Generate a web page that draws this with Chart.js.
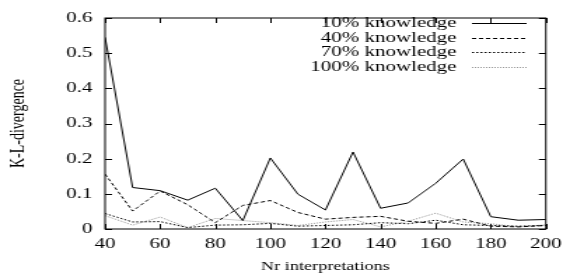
<!DOCTYPE html>
<html>
<head>
<meta charset="utf-8">
<script src="https://cdn.jsdelivr.net/npm/chart.js@4"></script>
<style>
  html, body { margin: 0; padding: 0; background: #fff; overflow: hidden; }
  #wrap { width: 407px; height: 276px; transform: scaleX(1.4005); transform-origin: 0 0; }
</style>
</head>
<body>
<div id="wrap"><canvas id="chart" width="407" height="276"></canvas></div>
<script>
var interpretations = [40, 50, 60, 70, 80, 90, 100, 110, 120, 130, 140, 150, 160, 170, 180, 190, 200];
var labels = ["10% knowledge", "40% knowledge", "70% knowledge", "100% knowledge"];
var k10 = [0.545, 0.118, 0.109, 0.082, 0.116, 0.024, 0.202, 0.099, 0.054, 0.219, 0.059, 0.074, 0.13, 0.199, 0.035, 0.025, 0.027];
var k40 = [0.156, 0.051, 0.108, 0.069, 0.018, 0.067, 0.081, 0.047, 0.028, 0.033, 0.036, 0.022, 0.016, 0.028, 0.008, 0.006, 0.01];
var k70 = [0.044, 0.02, 0.021, 0.004, 0.011, 0.012, 0.016, 0.008, 0.01, 0.012, 0.018, 0.015, 0.025, 0.012, 0.01, 0.008, 0.01];
var k100 = [0.038, 0.011, 0.034, 0.004, 0.03, 0.024, 0.018, 0.01, 0.02, 0.027, 0.006, 0.022, 0.045, 0.02, 0.015, 0.006, 0.012];

var serif = "'Liberation Serif', 'Times New Roman', 'DejaVu Serif', serif";
var styles = [
    {color: "#000", dash: []},
    {color: "#000", dash: [3, 2]},
    {color: "#000", dash: [1.5, 1.5]},
    {color: "#999", dash: [1, 1]}
];

function points(arr) {
    var out = [];
    for (var i = 0; i < interpretations.length; i++) {
        out.push({x: interpretations[i], y: arr[i]});
    }
    return out;
}

var series = [k10, k40, k70, k100];
var datasets = [];
for (var i = 0; i < series.length; i++) {
    datasets.push({
        label: labels[i],
        data: points(series[i]),
        borderColor: styles[i].color,
        borderDash: styles[i].dash,
        borderWidth: 1,
        pointRadius: 0,
        tension: 0,
        fill: false
    });
}

// gnuplot style frame with inward ticks on all four sides
var framePlugin = {
    id: "frame",
    afterDatasetsDraw: function (chart) {
        var ctx = chart.ctx, a = chart.chartArea;
        var xs = chart.scales.x, ys = chart.scales.y;
        ctx.save();
        ctx.strokeStyle = "#000";
        ctx.lineWidth = 1;
        ctx.setLineDash([]);
        ctx.strokeRect(a.left, a.top, a.right - a.left, a.bottom - a.top);
        ctx.beginPath();
        xs.ticks.forEach(function (t) {
            var px = Math.round(xs.getPixelForValue(t.value)) + 0.5;
            ctx.moveTo(px, a.bottom); ctx.lineTo(px, a.bottom - 5);
            ctx.moveTo(px, a.top); ctx.lineTo(px, a.top + 5);
        });
        ys.ticks.forEach(function (t) {
            var py = Math.round(ys.getPixelForValue(t.value)) + 0.5;
            ctx.moveTo(a.left, py); ctx.lineTo(a.left + 5, py);
            ctx.moveTo(a.right, py); ctx.lineTo(a.right - 5, py);
        });
        ctx.stroke();
        ctx.restore();
    }
};

// legend: text right aligned, line sample on the right
var keyPlugin = {
    id: "key",
    afterDraw: function (chart) {
        var ctx = chart.ctx;
        var textRight = 326, lineL = 337, lineR = 376, top = 23, step = 14.6;
        ctx.save();
        ctx.font = "15px " + serif;
        ctx.textAlign = "right";
        ctx.textBaseline = "middle";
        chart.data.datasets.forEach(function (ds, i) {
            var y = top + i * step;
            ctx.fillStyle = "#000";
            ctx.fillText(ds.label, textRight, y);
            ctx.strokeStyle = ds.borderColor;
            ctx.setLineDash(ds.borderDash);
            ctx.lineWidth = 1;
            ctx.beginPath();
            ctx.moveTo(lineL, Math.round(y) + 0.5);
            ctx.lineTo(lineR, Math.round(y) + 0.5);
            ctx.stroke();
        });
        ctx.restore();
    }
};

new Chart(document.getElementById("chart").getContext("2d"), {
    type: "line",
    data: {datasets: datasets},
    options: {
        responsive: false,
        animation: false,
        layout: {padding: {top: 13, right: 12, left: 0, bottom: 0}},
        plugins: {legend: {display: false}, tooltip: {enabled: false}},
        scales: {
            x: {
                type: "linear",
                min: 40,
                max: 200,
                grid: {display: false, drawTicks: false},
                border: {display: false},
                ticks: {stepSize: 20, color: "#000", padding: 6, font: {family: serif, size: 15}, maxRotation: 0},
                title: {display: true, text: "Nr interpretations", color: "#000", font: {family: serif, size: 13}, padding: {top: 0, bottom: 2}},
                afterFit: function (s) { s.height = 47; }
            },
            y: {
                min: 0,
                max: 0.6,
                grid: {display: false, drawTicks: false},
                border: {display: false},
                ticks: {stepSize: 0.1, color: "#000", padding: 9, font: {family: serif, size: 15}},
                title: {display: true, text: "K-L-divergence", color: "#000", font: {family: serif, size: 14}, padding: {top: 5, bottom: 0}},
                afterFit: function (s) { s.width = 75; }
            }
        }
    },
    plugins: [framePlugin, keyPlugin]
});
</script>
</body>
</html>
